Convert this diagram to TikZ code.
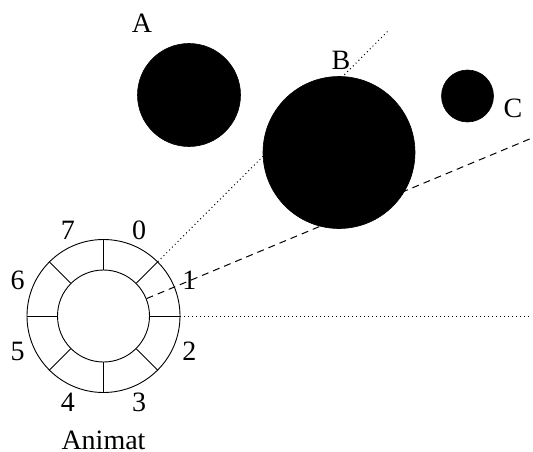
\documentclass[tikz,border=0pt]{standalone}
\usepackage{fontspec}
\setmainfont{Liberation Serif}
\usetikzlibrary{calc}
\begin{document}
\begin{tikzpicture}[x=1pt,y=-1pt,
  lbl/.style={font=\fontsize{28}{33}\selectfont, inner sep=0pt},
  blob/.style={circle, fill=black, draw=black, line width=0.6pt, inner sep=0pt},
  ring/.style={draw=black, line width=0.9pt},
  dotray/.style={line width=1pt, dash pattern=on 1pt off 3pt},
  dashray/.style={line width=1pt, dash pattern=on 7pt off 5pt}]
\useasboundingbox (0,0) rectangle (533,452);
% obstacles
\node[blob, minimum size=103pt] (A) at (189,95) {};
\node[blob, minimum size=152pt] (B) at (339,152.5) {};
\node[blob, minimum size=52pt] (C) at (467.5,96) {};
\node[lbl] (lA) at (142,23) {A};
\node[lbl] (lB) at (341,60) {B};
\node[lbl] (lC) at (513,108) {C};
% animat
\coordinate (o) at (103.5,316);
\node[ring, circle, minimum size=153pt, inner sep=0pt] (outer) at (o) {};
\node[ring, circle, minimum size=92pt, inner sep=0pt] (inner) at (o) {};
\foreach \a in {0,45,...,315}{
  \draw[line width=0.9pt] (inner.\a) -- (outer.\a);
}
\foreach \n/\a in {0/67.5,1/22.5,2/-22.5,3/-67.5,4/-112.5,5/-157.5,6/157.5,7/112.5}{
  \node[lbl] (s\n) at ($(o)+(\a:93 and -93)$) {\n};
}
\node[lbl] (name) at (103.5,440.5) {Animat};
% rays
\coordinate (e1) at (388,31);
\coordinate (e2) at (532,138);
\coordinate (e3) at (532,316);
\draw[dotray] (outer.45) -- (e1);
\draw[dashray] (inner.22.5) -- (e2);
\draw[dotray] (outer.0) -- (e3);
\end{tikzpicture}
\end{document}
